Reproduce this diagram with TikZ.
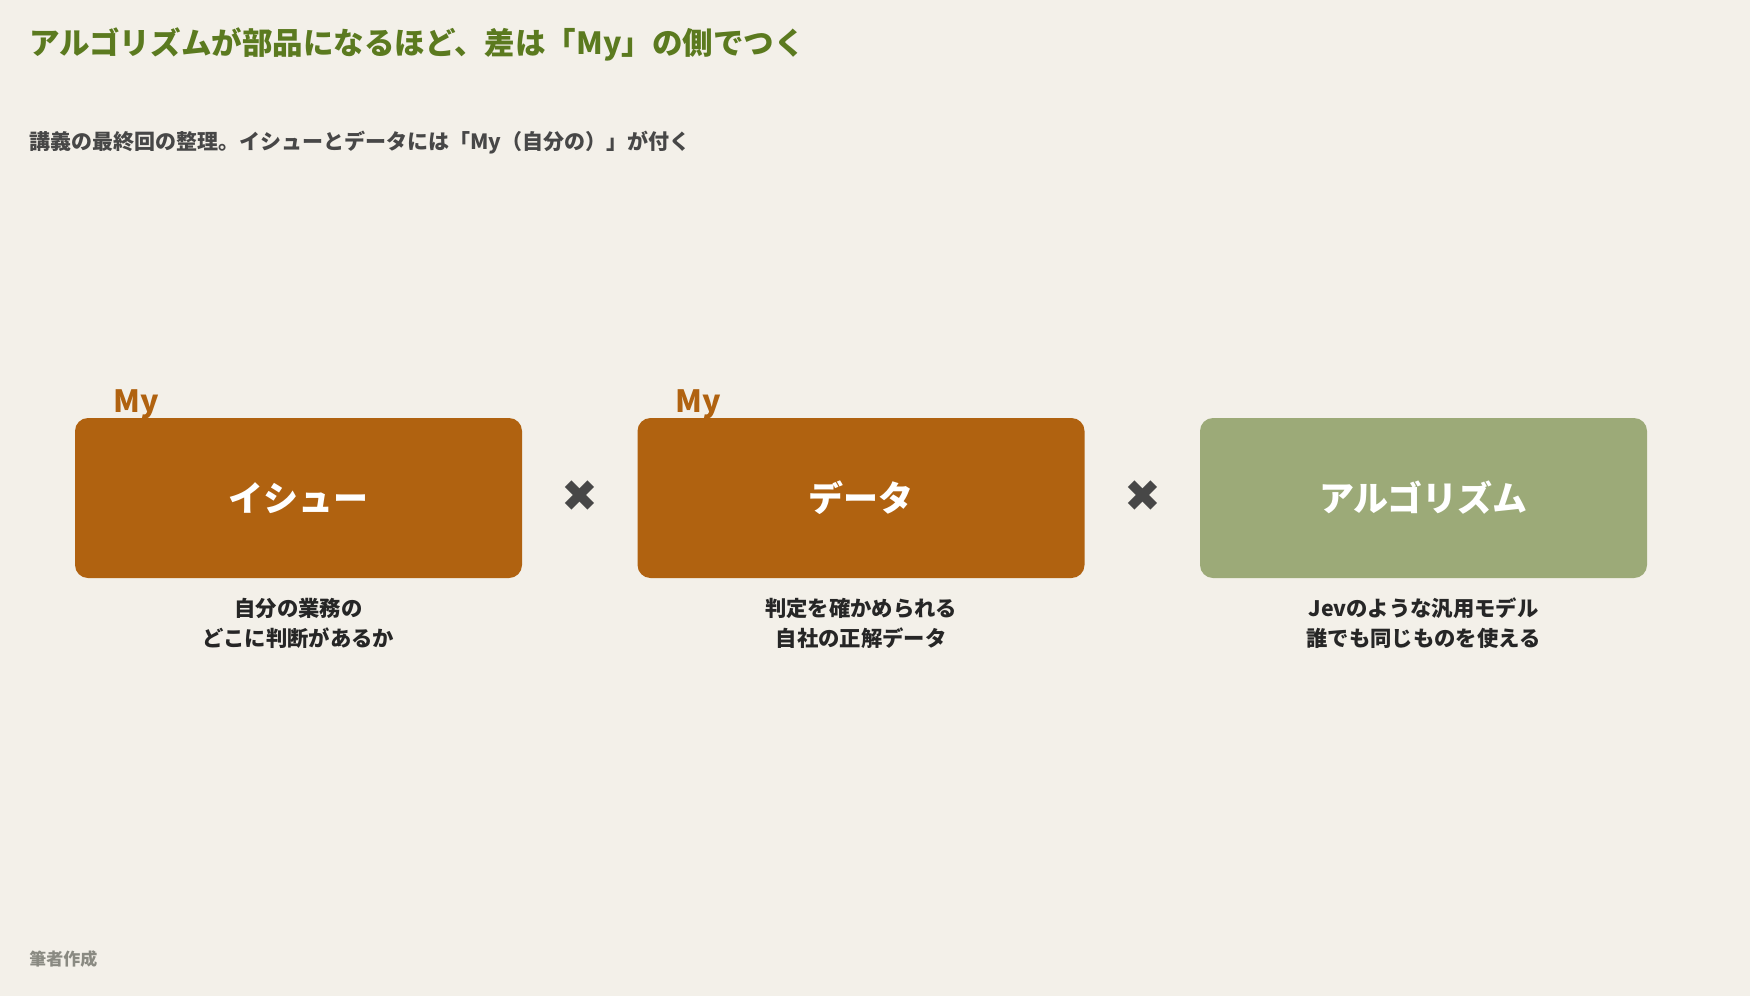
\documentclass[tikz,border=0pt]{standalone}
\usepackage{fontspec}
\newfontfamily\jp{Noto Sans CJK JP}
\newfontfamily\sym{DejaVu Sans}
\definecolor{bg}{HTML}{F3F0E9}
\definecolor{titlegreen}{HTML}{5B7A1F}
\definecolor{subgray}{HTML}{474747}
\definecolor{boxorange}{HTML}{B06210}
\definecolor{boxgreen}{HTML}{9CAA78}
\definecolor{capdark}{HTML}{262626}
\definecolor{footgray}{HTML}{8A8A82}
\definecolor{xgray}{HTML}{474747}
\tikzset{
  px/.style={x=0.75pt,y=-0.75pt},
  box/.style={rounded corners=9.75pt, minimum width=335.25pt, minimum height=120pt, inner sep=0pt,
    text=white, font=\jp\bfseries\fontsize{26.25pt}{30pt}\selectfont},
  mylabel/.style={anchor=base west, inner sep=0pt, text=boxorange, font=\jp\bfseries\fontsize{23pt}{26pt}\selectfont},
  caption/.style={align=center, inner sep=0pt, text=capdark, font=\jp\bfseries\fontsize{16pt}{22.5pt}\selectfont},
  times/.style={inner sep=0pt, text=xgray, font=\sym\fontsize{33pt}{33pt}\selectfont}
}
\begin{document}
\begin{tikzpicture}[px]
\fill[bg] (0,0) rectangle (1750,996);
\useasboundingbox (0,0) rectangle (1750,996);
\node[anchor=west, inner sep=0pt, text=titlegreen, font=\jp\bfseries\fontsize{22.9pt}{26pt}\selectfont] (title) at (29,44.5) {アルゴリズムが部品になるほど、差は「My」の側でつく};
\node[anchor=west, inner sep=0pt, text=subgray, font=\jp\bfseries\fontsize{15.75pt}{18pt}\selectfont] (subtitle) at (29,143) {講義の最終回の整理。イシューとデータには「My（自分の）」が付く};
\node[box, fill=boxorange] (issue) at (298.5,498) {イシュー};
\node[box, fill=boxorange] (data) at (861,498) {データ};
\node[box, fill=boxgreen] (algo) at (1423.5,498) {アルゴリズム};
\node[mylabel] (my1) at (113,412) {My};
\node[mylabel] (my2) at (675.5,412) {My};
\node[times] (x1) at (580,496) {✖};
\node[times] (x2) at (1142.5,496) {✖};
\node[caption] (c1) at (298.5,623) {自分の業務の\\どこに判断があるか};
\node[caption] (c2) at (861,623) {判定を確かめられる\\自社の正解データ};
\node[caption] (c3) at (1423.5,623) {Jevのような汎用モデル\\誰でも同じものを使える};
\node[anchor=west, inner sep=0pt, text=footgray, font=\jp\bfseries\fontsize{12.75pt}{15pt}\selectfont] (foot) at (29,959) {筆者作成};
\end{tikzpicture}
\end{document}
